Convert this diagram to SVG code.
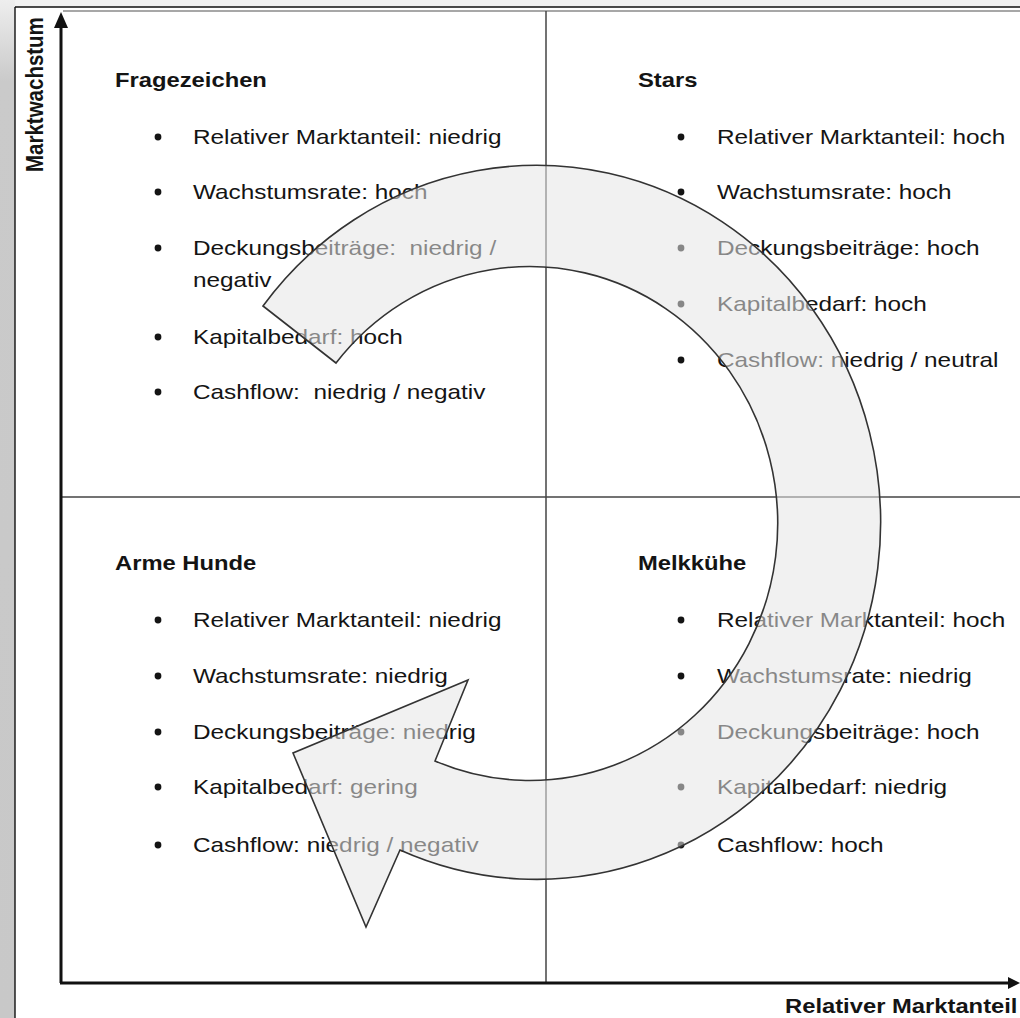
<svg xmlns="http://www.w3.org/2000/svg" width="1020" height="1018" viewBox="0 0 1020 1018">
<defs>
<linearGradient id="leftBg" x1="0" y1="0" x2="0" y2="1">
<stop offset="0" stop-color="#eeeeee"/>
<stop offset="0.08" stop-color="#cacaca"/>
<stop offset="1" stop-color="#c8c8c8"/>
</linearGradient>
</defs>
<style>
.t{font-family:"Liberation Sans",Arial,sans-serif;font-size:21px;fill:#141414;white-space:pre}
.h{font-family:"Liberation Sans",Arial,sans-serif;font-size:20.5px;font-weight:bold;fill:#141414}
.ax{font-family:"Liberation Sans",Arial,sans-serif;font-size:20.5px;font-weight:bold;fill:#141414}
.b{fill:#141414}
.grid{stroke:#444;stroke-width:1.5;fill:none}
.axis{stroke:#111;stroke-width:3;fill:none}
</style>
<rect x="0" y="0" width="1020" height="1018" fill="#ffffff"/>
<rect x="0" y="0" width="1020" height="7" fill="#f2f2f2"/>
<rect x="0" y="0" width="15" height="1018" fill="url(#leftBg)"/>
<line x1="15" y1="7" x2="1020" y2="7" stroke="#111" stroke-width="1.4"/>
<line x1="15" y1="7" x2="15" y2="1018" stroke="#111" stroke-width="1.4"/>
<line x1="63" y1="11" x2="1020" y2="11" stroke="#8a8a8a" stroke-width="1.6"/>

<g id="grid">
<line class="grid" x1="546" y1="11" x2="546" y2="983"/>
<line class="grid" x1="61" y1="497" x2="1020" y2="497"/>
</g>

<g id="axes">
<line class="axis" x1="61" y1="983" x2="61" y2="22"/>
<path d="M61,12 L68,28 L54,28 Z" fill="#111"/>
<line class="axis" x1="60" y1="983" x2="1010" y2="983"/>
<path d="M1020,983 L1008,977 L1008,989 Z" fill="#111"/>
<text class="ax" transform="translate(43,172) rotate(-90) scale(1,1.16)" x="0" y="0">Marktwachstum</text>
<text class="ax" transform="translate(785,1013) scale(1.16,1)" x="0" y="0">Relativer Marktanteil</text>
</g>

<g id="fragezeichen">
<circle class="b" cx="158" cy="137" r="3.4"/>
<circle class="b" cx="158" cy="192" r="3.4"/>
<circle class="b" cx="158" cy="248" r="3.4"/>
<circle class="b" cx="158" cy="337" r="3.4"/>
<circle class="b" cx="158" cy="392" r="3.4"/>
<g transform="translate(115,0) scale(1.16,1)">
<text class="h" x="0" y="87">Fragezeichen</text>
<text class="t" x="67.2" y="144">Relativer Marktanteil: niedrig</text>
<text class="t" x="67.2" y="199">Wachstumsrate: hoch</text>
<text class="t" x="67.2" y="255">Deckungsbeiträge:  niedrig /</text>
<text class="t" x="67.2" y="287">negativ</text>
<text class="t" x="67.2" y="344">Kapitalbedarf: hoch</text>
<text class="t" x="67.2" y="399">Cashflow:  niedrig / negativ</text>
</g>
</g>

<g id="stars">
<circle class="b" cx="681" cy="137" r="3.4"/>
<circle class="b" cx="681" cy="192" r="3.4"/>
<circle class="b" cx="681" cy="248" r="3.4"/>
<circle class="b" cx="681" cy="304" r="3.4"/>
<circle class="b" cx="681" cy="360" r="3.4"/>
<g transform="translate(638,0) scale(1.16,1)">
<text class="h" x="0" y="87">Stars</text>
<text class="t" x="68.1" y="144">Relativer Marktanteil: hoch</text>
<text class="t" x="68.1" y="199">Wachstumsrate: hoch</text>
<text class="t" x="68.1" y="255">Deckungsbeiträge: hoch</text>
<text class="t" x="68.1" y="311">Kapitalbedarf: hoch</text>
<text class="t" x="68.1" y="367">Cashflow: niedrig / neutral</text>
</g>
</g>

<g id="arme-hunde">
<circle class="b" cx="158" cy="620" r="3.4"/>
<circle class="b" cx="158" cy="676" r="3.4"/>
<circle class="b" cx="158" cy="732" r="3.4"/>
<circle class="b" cx="158" cy="787" r="3.4"/>
<circle class="b" cx="158" cy="845" r="3.4"/>
<g transform="translate(115,0) scale(1.16,1)">
<text class="h" x="0" y="570">Arme Hunde</text>
<text class="t" x="67.2" y="627">Relativer Marktanteil: niedrig</text>
<text class="t" x="67.2" y="683">Wachstumsrate: niedrig</text>
<text class="t" x="67.2" y="739">Deckungsbeiträge: niedrig</text>
<text class="t" x="67.2" y="794">Kapitalbedarf: gering</text>
<text class="t" x="67.2" y="852">Cashflow: niedrig / negativ</text>
</g>
</g>

<g id="melkkuehe">
<circle class="b" cx="681" cy="620" r="3.4"/>
<circle class="b" cx="681" cy="676" r="3.4"/>
<circle class="b" cx="681" cy="732" r="3.4"/>
<circle class="b" cx="681" cy="787" r="3.4"/>
<circle class="b" cx="681" cy="845" r="3.4"/>
<g transform="translate(638,0) scale(1.16,1)">
<text class="h" x="0" y="570">Melkkühe</text>
<text class="t" x="68.1" y="627">Relativer Marktanteil: hoch</text>
<text class="t" x="68.1" y="683">Wachstumsrate: niedrig</text>
<text class="t" x="68.1" y="739">Deckungsbeiträge: hoch</text>
<text class="t" x="68.1" y="794">Kapitalbedarf: niedrig</text>
<text class="t" x="68.1" y="852">Cashflow: hoch</text>
</g>
</g>

<g id="cycle-arrow">
<path d="M263,306 A344,357 0 1 1 400,850 L366,927 L293,753 L468,680 L435,761 A248,257 0 1 0 336,363 Z" fill="#e6e6e6" fill-opacity="0.55" stroke="#333" stroke-width="1.6" stroke-linejoin="miter"/>
</g>
</svg>
